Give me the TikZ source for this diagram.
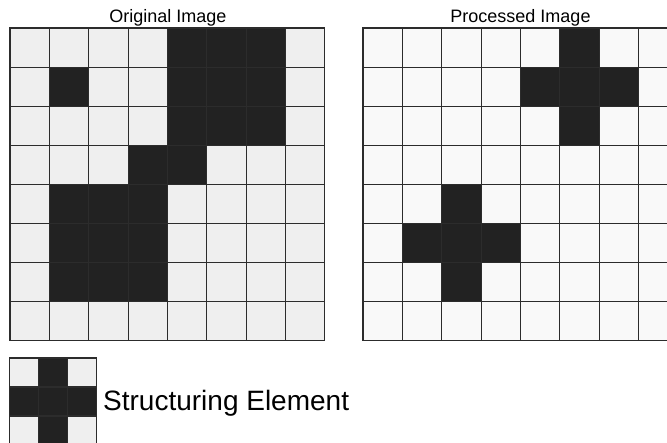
\documentclass[tikz,border=0pt]{standalone}
\usepackage{fontspec}
\setmainfont{Liberation Sans}
\definecolor{lightA}{HTML}{EFEFEF}
\definecolor{lightB}{HTML}{F9F9F9}
\definecolor{darkC}{HTML}{222222}
\definecolor{lineC}{HTML}{2C2C2C}
\tikzset{
  cellbox/.style={draw=lineC, line width=1.1pt},
  titletext/.style={font=\fontsize{18}{20}\selectfont, inner sep=0pt, anchor=base},
  setext/.style={font=\fontsize{28}{32}\selectfont, inner sep=0pt, anchor=base west}
}
\begin{document}
\begin{tikzpicture}[x=1pt,y=-1pt]
\path[use as bounding box] (0,0) rectangle (667,443);
\clip (0,0) rectangle (667,443);
\fill[white] (0,0) rectangle (667,443);
% Original image
\def\cw{39.35}
\def\ch{39.1}
\foreach \r/\row in {0/{0,0,0,0,1,1,1,0},1/{0,1,0,0,1,1,1,0},2/{0,0,0,0,1,1,1,0},3/{0,0,0,1,1,0,0,0},4/{0,1,1,1,0,0,0,0},5/{0,1,1,1,0,0,0,0},6/{0,1,1,1,0,0,0,0},7/{0,0,0,0,0,0,0,0}}{
  \foreach \v [count=\c from 0] in \row {
    \ifnum\v=1 \def\fc{darkC}\else\def\fc{lightA}\fi
    \path[cellbox, fill=\fc] (10+\c*\cw, 28+\r*\ch) rectangle ++(\cw,\ch);
  }
}
% Processed image
\foreach \r/\row in {0/{0,0,0,0,0,1,0,0},1/{0,0,0,0,1,1,1,0},2/{0,0,0,0,0,1,0,0},3/{0,0,0,0,0,0,0,0},4/{0,0,1,0,0,0,0,0},5/{0,1,1,1,0,0,0,0},6/{0,0,1,0,0,0,0,0},7/{0,0,0,0,0,0,0,0}}{
  \foreach \v [count=\c from 0] in \row {
    \ifnum\v=1 \def\fc{darkC}\else\def\fc{lightB}\fi
    \path[cellbox, fill=\fc] (363+\c*\cw, 28+\r*\ch) rectangle ++(\cw,\ch);
  }
}
% Structuring element
\foreach \r/\row in {0/{0,1,0},1/{1,1,1},2/{0,1,0}}{
  \foreach \v [count=\c from 0] in \row {
    \ifnum\v=1 \def\fc{darkC}\else\def\fc{lightA}\fi
    \path[cellbox, fill=\fc] (9.5+\c*29, 358+\r*29) rectangle ++(29,29);
  }
}
\node[titletext] (t1) at (168,22.7) {Original Image};
\node[titletext] (t2) at (520.5,22.7) {Processed Image};
\node[setext] (se) at (103,411) {Structuring Element};
\end{tikzpicture}
\end{document}
